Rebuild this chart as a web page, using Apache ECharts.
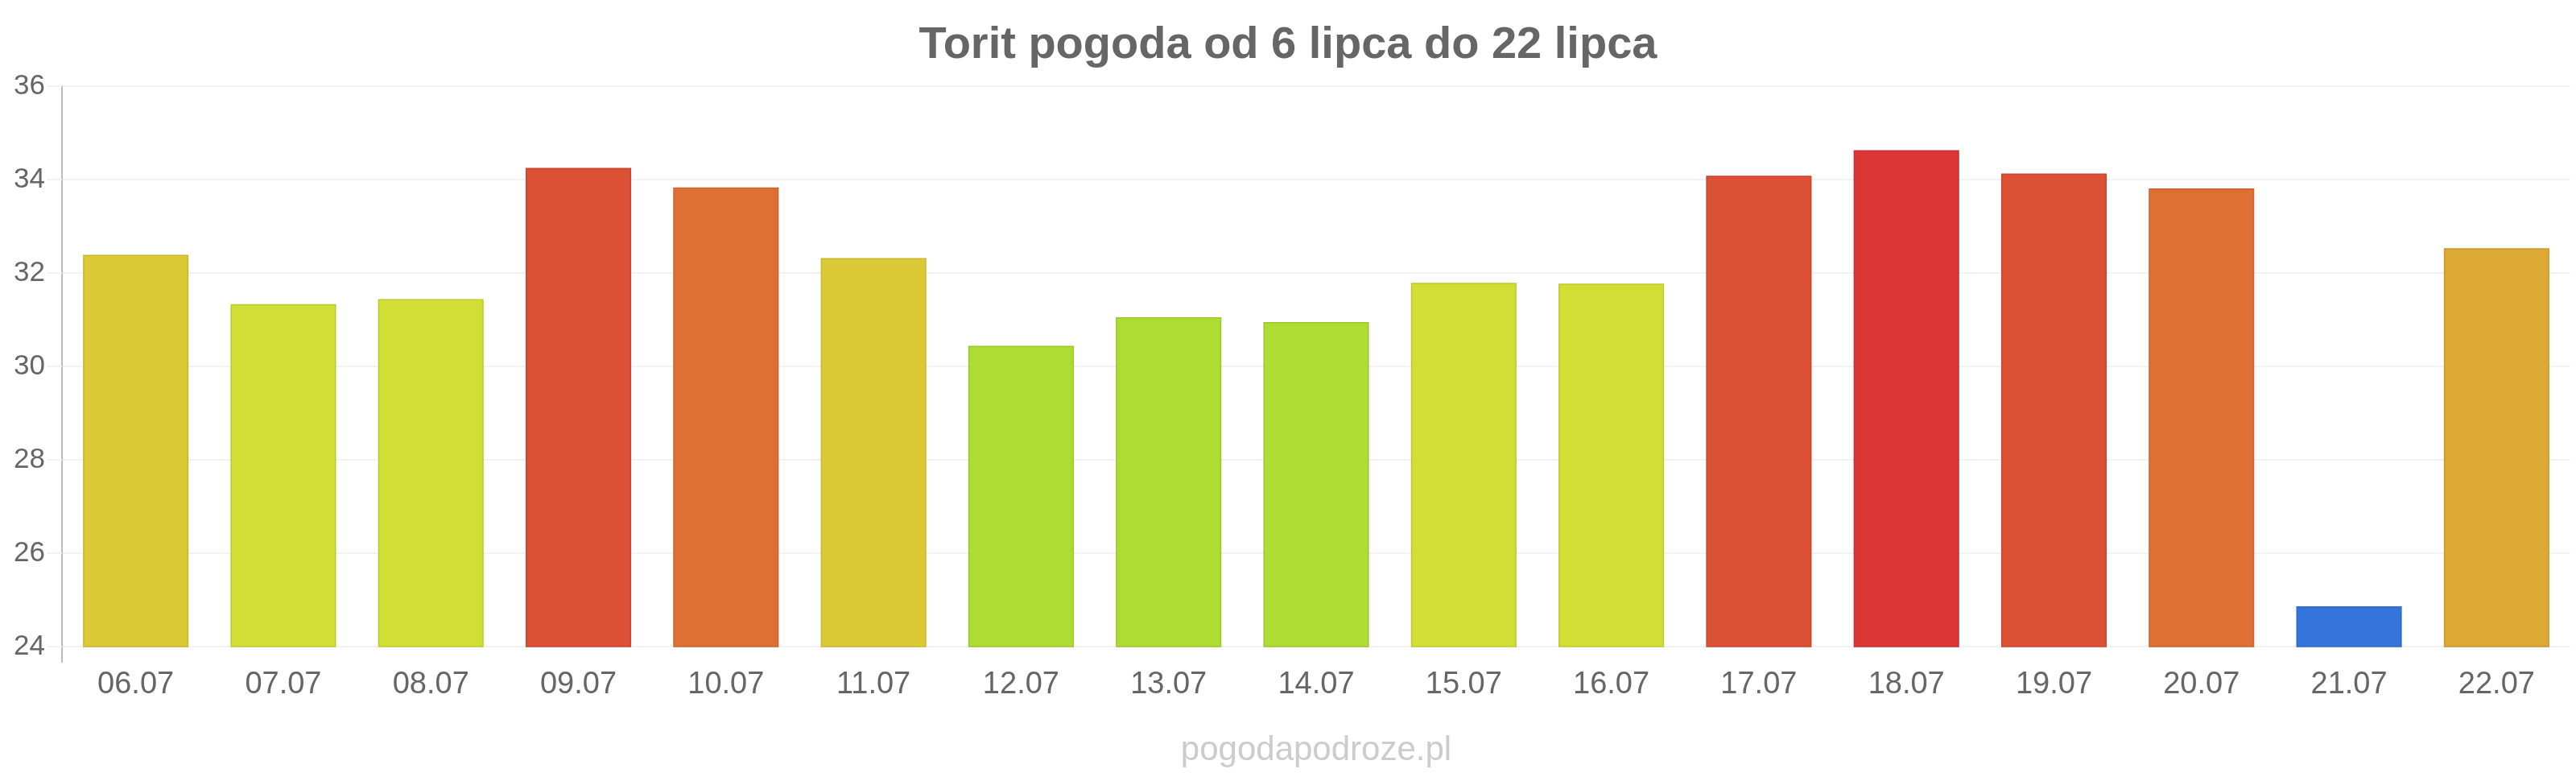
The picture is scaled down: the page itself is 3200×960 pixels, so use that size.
<!DOCTYPE html>
<html><head><meta charset="utf-8">
<script src="https://cdn.jsdelivr.net/npm/echarts@6/dist/echarts.min.js"></script>
<style>html,body{margin:0;padding:0;background:#fff}#c{width:3200px;height:960px}</style>
</head><body><div id="c"></div>
<script>
const titleText = 'Torit pogoda od 6 lipca do 22 lipca';
const watermark = 'pogodapodroze.pl';
const categories = ['06.07','07.07','08.07','09.07','10.07','11.07','12.07','13.07','14.07','15.07','16.07','17.07','18.07','19.07','20.07','21.07','22.07'];
const temps = [32.39, 31.33, 31.44, 34.25, 33.83, 32.32, 30.44, 31.05, 30.95, 31.79, 31.77, 34.08, 34.63, 34.13, 33.81, 24.86, 32.53];
const barColors = ['#DBCA35','#D0DE35','#D0DE35','#DC5035','#DE7035','#DBCA35','#ADDD33','#ADDD33','#ADDD33','#D0DE35','#D0DE35','#DC5035','#DB3535','#DC5035','#DE7035','#3575DB','#DDA935'];
const borderColors = ['#C8B72E','#BCCA2E','#BCCA2E','#C8462F','#C9632F','#C8B72E','#9CC42E','#9CC42E','#9CC42E','#BCCA2E','#BCCA2E','#C8462F','#C42F2F','#C8462F','#C9632F','#2F68C4','#C8982F'];
const yMin = 24, yMax = 36, yStep = 2;

const chart = echarts.init(document.getElementById('c'), null, {renderer:'canvas'});
chart.setOption({
  animation: false,
  backgroundColor: '#ffffff',
  title: {
    text: titleText, left: 'center', top: 24,
    textStyle: {fontFamily: 'Liberation Sans', fontSize: 56, fontWeight: 'bold', color: '#666666'}
  },
  grid: {left: 77, right: 7, top: 107, bottom: 157, containLabel: false},
  xAxis: {
    type: 'category', data: categories, boundaryGap: true,
    axisLine: {show: false},
    axisTick: {show: false},
    axisLabel: {color: '#666666', fontFamily: 'Liberation Sans', fontSize: 38, margin: 29}
  },
  yAxis: {
    type: 'value', min: yMin, max: yMax, interval: yStep,
    axisLine: {show: true, lineStyle: {color: '#bbbbbb', width: 2}},
    axisTick: {show: true, length: 19, lineStyle: {color: '#f2f2f2', width: 2}},
    splitLine: {show: true, lineStyle: {color: '#f2f2f2', width: 2}},
    axisLabel: {color: '#666666', fontFamily: 'Liberation Sans', fontSize: 35, margin: 21}
  },
  series: [{
    type: 'bar', barWidth: '71.5%',
    data: temps.map((v, i) => ({value: v, itemStyle: {color: barColors[i], borderColor: borderColors[i], borderWidth: 1.5}})),
  }]
});
const rect = chart.getModel().getComponent('grid').coordinateSystem.getRect();
const base = chart.convertToPixel({yAxisIndex: 0}, yMin);
chart.setOption({
  graphic: [
    {type: 'line', shape: {x1: rect.x, y1: base, x2: rect.x, y2: base + 20}, style: {stroke: '#bbbbbb', lineWidth: 2}},
    {type: 'text', x: rect.x + rect.width / 2, y: 932,
     style: {text: watermark, fontFamily: 'Liberation Sans', fontSize: 42, fill: '#cccccc', textAlign: 'center', textVerticalAlign: 'middle'}}
  ]
});
</script></body></html>
